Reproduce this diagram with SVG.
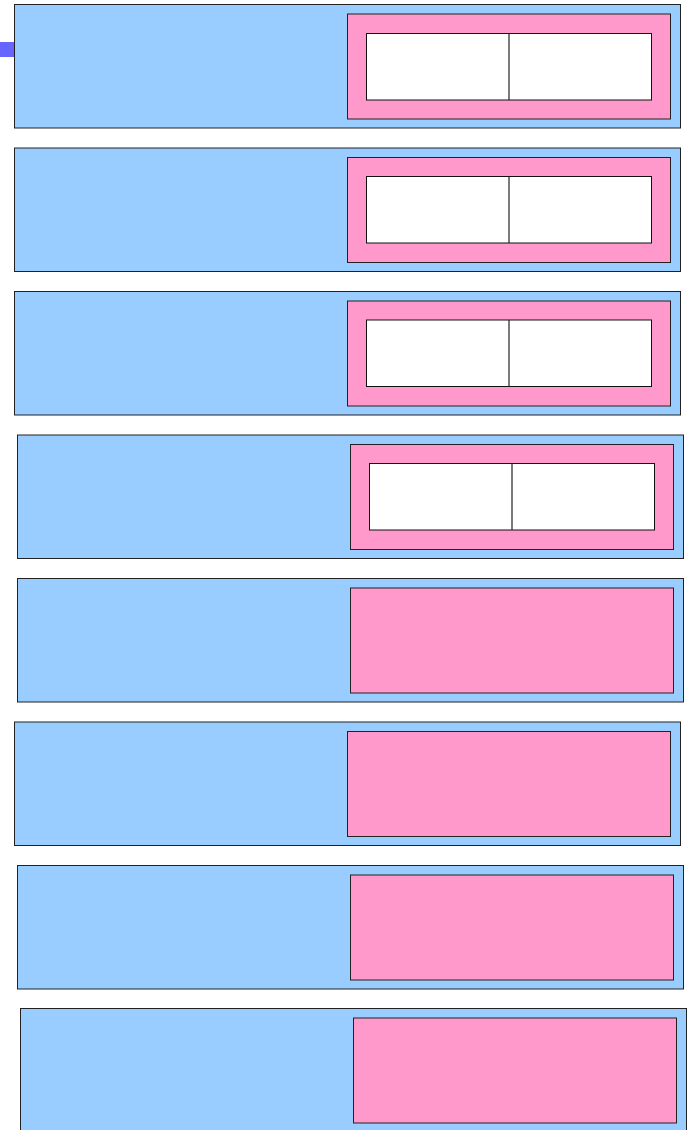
<svg xmlns="http://www.w3.org/2000/svg" width="689" height="1130" viewBox="0 0 689 1130">
<style>
.outer{fill:#99ccff;stroke:#222;stroke-width:1}
.pink{fill:#ff99cc;stroke:#222;stroke-width:1}
.white{fill:#ffffff;stroke:#111;stroke-width:1}
.div{stroke:#222;stroke-width:1.2}
</style>
<rect id="tab" x="0" y="42" width="14" height="15" fill="#6666ff"/>
<g id="row1" transform="translate(14,4.5)">
<rect class="outer" x="0.5" y="0" width="666" height="123.5"/>
<rect class="pink" x="333.5" y="9.5" width="323" height="105"/>
<rect class="white" x="352.5" y="29" width="285" height="66.5"/>
<line class="div" x1="495" y1="29" x2="495" y2="95.5"/>
</g>
<g id="row2" transform="translate(14,148)">
<rect class="outer" x="0.5" y="0" width="666" height="123.5"/>
<rect class="pink" x="333.5" y="9.5" width="323" height="105"/>
<rect class="white" x="352.5" y="28.5" width="285" height="66.5"/>
<line class="div" x1="495" y1="28.5" x2="495" y2="95"/>
</g>
<g id="row3" transform="translate(14,291.5)">
<rect class="outer" x="0.5" y="0" width="666" height="123.5"/>
<rect class="pink" x="333.5" y="9.5" width="323" height="105"/>
<rect class="white" x="352.5" y="28.5" width="285" height="66.5"/>
<line class="div" x1="495" y1="28.5" x2="495" y2="95"/>
</g>
<g id="row4" transform="translate(17,435)">
<rect class="outer" x="0.5" y="0" width="666" height="123.5"/>
<rect class="pink" x="333.5" y="9.5" width="323" height="105"/>
<rect class="white" x="352.5" y="28.5" width="285" height="66.5"/>
<line class="div" x1="495" y1="28.5" x2="495" y2="95"/>
</g>
<g id="row5" transform="translate(17,578.5)">
<rect class="outer" x="0.5" y="0" width="666" height="123.5"/>
<rect class="pink" x="333.5" y="9.5" width="323" height="105"/>
</g>
<g id="row6" transform="translate(14,722)">
<rect class="outer" x="0.5" y="0" width="666" height="123.5"/>
<rect class="pink" x="333.5" y="9.5" width="323" height="105"/>
</g>
<g id="row7" transform="translate(17,865.5)">
<rect class="outer" x="0.5" y="0" width="666" height="123.5"/>
<rect class="pink" x="333.5" y="9.5" width="323" height="105"/>
</g>
<g id="row8" transform="translate(20,1008.5)">
<rect class="outer" x="0.5" y="0" width="666" height="123.5"/>
<rect class="pink" x="333.5" y="9.5" width="323" height="105"/>
</g>
<g id="connectors"></g>
</svg>
